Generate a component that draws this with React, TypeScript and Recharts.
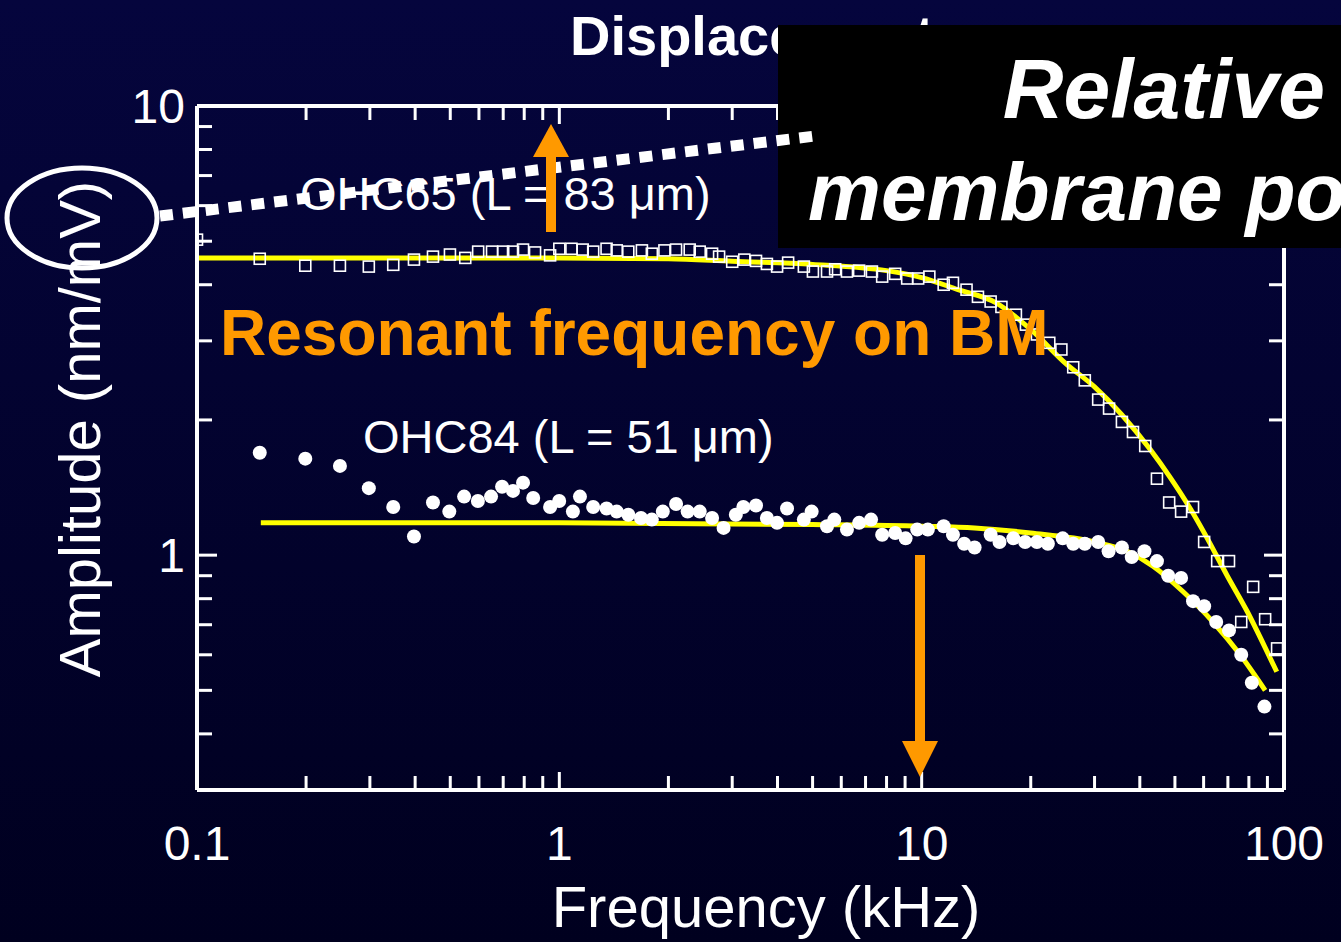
import React from "react";
import { ComposedChart, XAxis, YAxis, Scatter, Line } from "recharts";

type pt = { f: number; a: number };

// OHC65 (L = 83 um), open squares
const ohc65: pt[] = [
  { f: 0.1, a: 5.04 }, { f: 0.149, a: 4.57 }, { f: 0.199, a: 4.41 }, { f: 0.248, a: 4.41 },
  { f: 0.298, a: 4.39 }, { f: 0.348, a: 4.43 }, { f: 0.397, a: 4.55 }, { f: 0.448, a: 4.62 },
  { f: 0.499, a: 4.67 }, { f: 0.55, a: 4.59 }, { f: 0.597, a: 4.74 }, { f: 0.652, a: 4.74 },
  { f: 0.7, a: 4.74 }, { f: 0.745, a: 4.74 }, { f: 0.794, a: 4.79 }, { f: 0.857, a: 4.72 },
  { f: 0.943, a: 4.65 }, { f: 1.0, a: 4.81 }, { f: 1.08, a: 4.81 }, { f: 1.16, a: 4.79 },
  { f: 1.24, a: 4.74 }, { f: 1.35, a: 4.81 }, { f: 1.44, a: 4.77 }, { f: 1.55, a: 4.74 },
  { f: 1.69, a: 4.77 }, { f: 1.8, a: 4.69 }, { f: 1.95, a: 4.77 }, { f: 2.1, a: 4.79 },
  { f: 2.29, a: 4.79 }, { f: 2.44, a: 4.74 }, { f: 2.64, a: 4.69 }, { f: 2.76, a: 4.62 },
  { f: 3.0, a: 4.5 }, { f: 3.24, a: 4.55 }, { f: 3.49, a: 4.52 }, { f: 3.74, a: 4.45 },
  { f: 3.99, a: 4.39 }, { f: 4.28, a: 4.48 }, { f: 4.73, a: 4.39 }, { f: 5.01, a: 4.28 },
  { f: 5.48, a: 4.28 }, { f: 5.77, a: 4.33 }, { f: 6.22, a: 4.28 }, { f: 6.72, a: 4.3 },
  { f: 7.29, a: 4.28 }, { f: 7.78, a: 4.17 }, { f: 8.45, a: 4.23 }, { f: 9.12, a: 4.13 },
  { f: 9.78, a: 4.13 }, { f: 10.5, a: 4.17 }, { f: 11.5, a: 4.0 }, { f: 12.2, a: 4.04 },
  { f: 13.3, a: 3.9 }, { f: 14.3, a: 3.76 }, { f: 15.5, a: 3.67 }, { f: 16.6, a: 3.57 },
  { f: 18.2, a: 3.43 }, { f: 19.4, a: 3.26 }, { f: 20.8, a: 3.1 }, { f: 22.5, a: 2.97 },
  { f: 24.3, a: 2.87 }, { f: 26.2, a: 2.62 }, { f: 28.2, a: 2.45 }, { f: 30.7, a: 2.22 },
  { f: 32.9, a: 2.12 }, { f: 35.7, a: 1.98 }, { f: 38.3, a: 1.88 }, { f: 41.4, a: 1.75 },
  { f: 44.6, a: 1.48 }, { f: 48.2, a: 1.31 }, { f: 52.0, a: 1.25 }, { f: 56.1, a: 1.28 },
  { f: 60.2, a: 1.07 }, { f: 65.4, a: 0.97 }, { f: 70.5, a: 0.97 }, { f: 76.2, a: 0.71 },
  { f: 82.2, a: 0.85 }, { f: 88.7, a: 0.72 }, { f: 95.7, a: 0.62 },
];

// OHC84 (L = 51 um), filled circles
const ohc84: pt[] = [
  { f: 0.149, a: 1.69 }, { f: 0.199, a: 1.64 }, { f: 0.248, a: 1.58 }, { f: 0.298, a: 1.41 },
  { f: 0.348, a: 1.28 }, { f: 0.397, a: 1.1 }, { f: 0.448, a: 1.31 }, { f: 0.497, a: 1.25 },
  { f: 0.546, a: 1.35 }, { f: 0.596, a: 1.32 }, { f: 0.648, a: 1.35 }, { f: 0.695, a: 1.42 },
  { f: 0.745, a: 1.39 }, { f: 0.794, a: 1.45 }, { f: 0.847, a: 1.34 }, { f: 0.943, a: 1.28 },
  { f: 0.999, a: 1.32 }, { f: 1.09, a: 1.25 }, { f: 1.14, a: 1.35 }, { f: 1.24, a: 1.28 },
  { f: 1.35, a: 1.27 }, { f: 1.44, a: 1.25 }, { f: 1.55, a: 1.23 }, { f: 1.68, a: 1.21 },
  { f: 1.8, a: 1.2 }, { f: 1.93, a: 1.25 }, { f: 2.1, a: 1.3 }, { f: 2.26, a: 1.25 },
  { f: 2.44, a: 1.25 }, { f: 2.64, a: 1.21 }, { f: 2.84, a: 1.15 }, { f: 3.07, a: 1.23 },
  { f: 3.22, a: 1.28 }, { f: 3.49, a: 1.29 }, { f: 3.74, a: 1.21 }, { f: 3.99, a: 1.18 },
  { f: 4.25, a: 1.27 }, { f: 4.73, a: 1.2 }, { f: 4.97, a: 1.25 }, { f: 5.48, a: 1.16 },
  { f: 5.74, a: 1.2 }, { f: 6.22, a: 1.14 }, { f: 6.72, a: 1.18 }, { f: 7.25, a: 1.2 },
  { f: 7.78, a: 1.11 }, { f: 8.45, a: 1.12 }, { f: 9.03, a: 1.09 }, { f: 9.72, a: 1.14 },
  { f: 10.4, a: 1.14 }, { f: 11.5, a: 1.16 }, { f: 12.2, a: 1.11 }, { f: 13.1, a: 1.06 },
  { f: 14.0, a: 1.04 }, { f: 15.5, a: 1.11 }, { f: 16.4, a: 1.07 }, { f: 17.9, a: 1.09 },
  { f: 19.3, a: 1.07 }, { f: 20.8, a: 1.07 }, { f: 22.3, a: 1.06 }, { f: 24.5, a: 1.09 },
  { f: 26.2, a: 1.06 }, { f: 28.2, a: 1.06 }, { f: 30.7, a: 1.07 }, { f: 32.8, a: 1.02 },
  { f: 35.7, a: 1.04 }, { f: 38.0, a: 0.99 }, { f: 41.2, a: 1.02 }, { f: 44.6, a: 0.97 },
  { f: 47.9, a: 0.9 }, { f: 52.0, a: 0.89 }, { f: 56.1, a: 0.79 }, { f: 60.2, a: 0.77 },
  { f: 65.0, a: 0.71 }, { f: 70.5, a: 0.68 }, { f: 76.2, a: 0.6 }, { f: 81.5, a: 0.52 },
  { f: 88.3, a: 0.46 },
];

// yellow fitted curves
const fit65: pt[] = [
  { f: 0.1, a: 4.59 }, { f: 1, a: 4.59 }, { f: 2, a: 4.57 }, { f: 3, a: 4.51 },
  { f: 5, a: 4.44 }, { f: 8, a: 4.3 }, { f: 10, a: 4.15 }, { f: 12.6, a: 3.9 },
  { f: 16, a: 3.65 }, { f: 20, a: 3.18 }, { f: 25, a: 2.67 }, { f: 30, a: 2.37 },
  { f: 42.7, a: 1.72 }, { f: 48.5, a: 1.49 }, { f: 55.1, a: 1.27 }, { f: 61.4, a: 1.09 },
  { f: 69.7, a: 0.9 }, { f: 79.1, a: 0.75 }, { f: 89.8, a: 0.61 }, { f: 95.5, a: 0.55 },
];

const fit84: pt[] = [
  { f: 0.15, a: 1.18 }, { f: 1, a: 1.18 }, { f: 5, a: 1.17 }, { f: 10, a: 1.16 },
  { f: 14, a: 1.15 }, { f: 20, a: 1.12 }, { f: 30, a: 1.07 }, { f: 36.9, a: 1.02 },
  { f: 43.5, a: 0.945 }, { f: 52.6, a: 0.83 }, { f: 63.7, a: 0.71 }, { f: 75.7, a: 0.6 },
  { f: 88.7, a: 0.5 },
];

const xTicks = [
  0.1, 0.2, 0.3, 0.4, 0.5, 0.6, 0.7, 0.8, 0.9,
  1, 2, 3, 4, 5, 6, 7, 8, 9,
  10, 20, 30, 40, 50, 60, 70, 80, 90, 100,
];
const xLabels = [0.1, 1, 10, 100];
const yTicks = [0.3, 0.4, 0.5, 0.6, 0.7, 0.8, 0.9, 1, 2, 3, 4, 5, 6, 7, 8, 9, 10];
const yLabels = [1, 10];

const WHITE = "#ffffff";
const ORANGE = "#ff9900";
const YELLOW = "#ffff00";
const FONT = "'Liberation Sans', Arial, sans-serif";

const BottomTick = (props: any) => {
  const { x, y, payload } = props;
  const major = xLabels.includes(payload.value);
  return (
    <g>
      <line x1={x} x2={x} y1={y} y2={y - (major ? 18 : 14)} stroke={WHITE} strokeWidth={3} />
      {major && (
        <text x={x} y={y + 70} textAnchor="middle" fill={WHITE} fontSize={48} fontFamily={FONT}>
          {payload.value}
        </text>
      )}
    </g>
  );
};

const TopTick = (props: any) => {
  const { x, y, payload } = props;
  const major = xLabels.includes(payload.value);
  return <line x1={x} x2={x} y1={y} y2={y + (major ? 18 : 14)} stroke={WHITE} strokeWidth={3} />;
};

const LeftTick = (props: any) => {
  const { x, y, payload } = props;
  const major = yLabels.includes(payload.value);
  return (
    <g>
      <line x1={x} x2={x + (major ? 20 : 15)} y1={y} y2={y} stroke={WHITE} strokeWidth={3} />
      {major && (
        <text x={x - 12} y={y + 17} textAnchor="end" fill={WHITE} fontSize={48} fontFamily={FONT}>
          {payload.value}
        </text>
      )}
    </g>
  );
};

const RightTick = (props: any) => {
  const { x, y, payload } = props;
  const major = yLabels.includes(payload.value);
  return <line x1={x} x2={x - (major ? 20 : 15)} y1={y} y2={y} stroke={WHITE} strokeWidth={3} />;
};

const Square = (p: any) => (
  <rect x={p.cx - 5.5} y={p.cy - 5.5} width={11} height={11} fill="none" stroke={WHITE} strokeWidth={1.6} />
);
const Dot = (p: any) => <circle cx={p.cx} cy={p.cy} r={7} fill={WHITE} />;

const axisLine = { stroke: WHITE, strokeWidth: 4 };

const App = () => {
  return (
    <div
      style={{
        position: "absolute",
        left: 0,
        top: 0,
        width: 1341,
        height: 942,
        overflow: "hidden",
        background: "linear-gradient(#05053d, #00001f)",
        fontFamily: FONT,
      }}
    >
      <ComposedChart width={1341} height={942} margin={{ top: 86, right: 37, bottom: 52, left: 97 }}>
        <XAxis
          xAxisId={0}
          dataKey="f"
          type="number"
          scale="log"
          domain={[0.1, 100]}
          allowDataOverflow
          ticks={xTicks}
          interval={0}
          height={100}
          tickSize={0}
          tickMargin={0}
          tickLine={false}
          axisLine={axisLine}
          tick={<BottomTick />}
        />
        <XAxis
          xAxisId="top"
          orientation="top"
          dataKey="f"
          type="number"
          scale="log"
          domain={[0.1, 100]}
          allowDataOverflow
          ticks={xTicks}
          interval={0}
          height={20}
          tickSize={0}
          tickMargin={0}
          tickLine={false}
          axisLine={axisLine}
          tick={<TopTick />}
        />
        <YAxis
          yAxisId={0}
          dataKey="a"
          type="number"
          scale="log"
          domain={[0.3, 10]}
          allowDataOverflow
          ticks={yTicks}
          interval={0}
          width={100}
          tickSize={0}
          tickMargin={0}
          tickLine={false}
          axisLine={axisLine}
          tick={<LeftTick />}
        />
        <YAxis
          yAxisId="right"
          orientation="right"
          dataKey="a"
          type="number"
          scale="log"
          domain={[0.3, 10]}
          allowDataOverflow
          ticks={yTicks}
          interval={0}
          width={20}
          tickSize={0}
          tickMargin={0}
          tickLine={false}
          axisLine={axisLine}
          tick={<RightTick />}
        />
        <Scatter data={ohc65} shape={Square} isAnimationActive={false} />
        <Scatter data={ohc84} shape={Dot} isAnimationActive={false} />
        <Line data={fit65} dataKey="a" type="monotone" stroke={YELLOW} strokeWidth={5} dot={false} isAnimationActive={false} />
        <Line data={fit84} dataKey="a" type="monotone" stroke={YELLOW} strokeWidth={5} dot={false} isAnimationActive={false} />
      </ComposedChart>

      <svg
        width={1341}
        height={942}
        style={{ position: "absolute", left: 0, top: 0, pointerEvents: "none" }}
        fontFamily={FONT}
      >
        <text x={570} y={55} fill={WHITE} fontSize={56} fontWeight="bold">
          Displacement
        </text>
        <rect x={778} y={25} width={600} height={223} fill="#000000" />
        <text x={1325} y={118} textAnchor="end" fill={WHITE} fontSize={84} fontWeight="bold" fontStyle="italic">
          Relative
        </text>
        <text x={808} y={220} fill={WHITE} fontSize={82} fontWeight="bold" fontStyle="italic">
          membrane potential
        </text>

        <text x={300} y={210} fill={WHITE} fontSize={47}>
          OHC65 (L = 83 μm)
        </text>
        <text x={363} y={453} fill={WHITE} fontSize={47}>
          OHC84 (L = 51 μm)
        </text>
        <line x1={160} y1={216} x2={815} y2={136} stroke={WHITE} strokeWidth={11} strokeDasharray="13 10" />
        <ellipse cx={82} cy={218} rx={75} ry={50} fill="none" stroke={WHITE} strokeWidth={5} />

        <text x={220} y={355} fill={ORANGE} fontSize={64} fontWeight="bold">
          Resonant frequency on BM
        </text>

        <rect x={546} y={150} width={10} height={82} fill={ORANGE} />
        <polygon points="533,157 569,157 551,124" fill={ORANGE} />
        <rect x={915} y={555} width={10} height={190} fill={ORANGE} />
        <polygon points="902,741 938,741 920,777" fill={ORANGE} />

        <text x={766} y={927} textAnchor="middle" fill={WHITE} fontSize={58}>
          Frequency (kHz)
        </text>
        <text x={100} y={429} textAnchor="middle" fill={WHITE} fontSize={58} transform="rotate(-90 100 429)">
          Amplitude (nm/mV)
        </text>
      </svg>
    </div>
  );
};

export default App;
